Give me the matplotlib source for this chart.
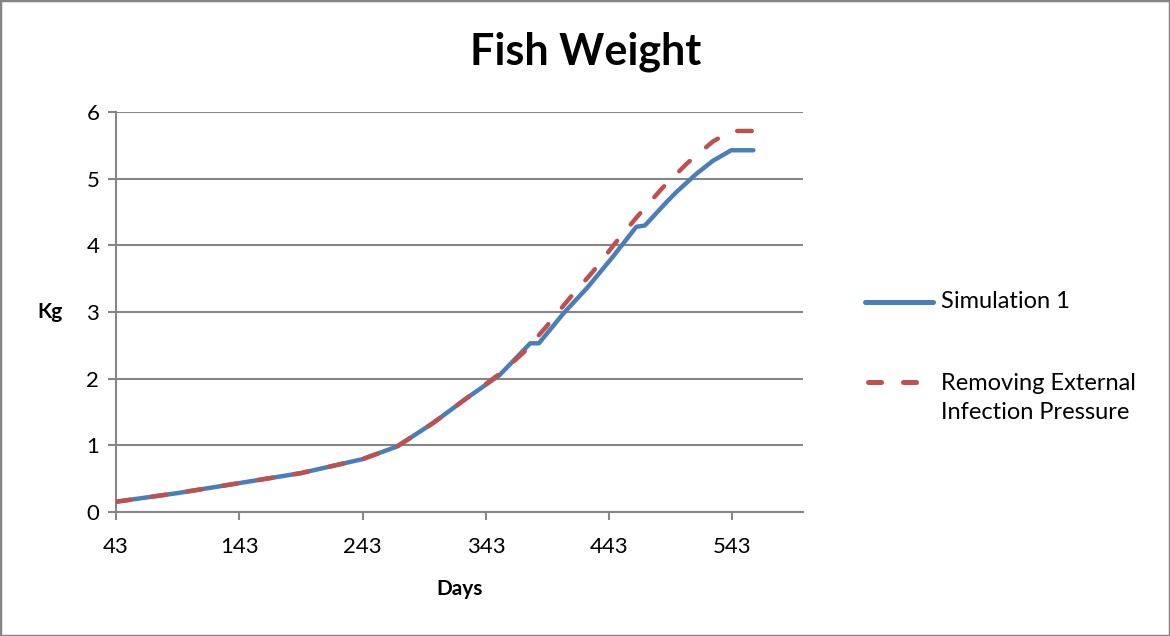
import matplotlib.pyplot as plt
from matplotlib.patches import Rectangle
from matplotlib.lines import Line2D

# values
days_sim = [43, 93, 143, 193, 243, 271, 300, 327, 354, 379, 386, 406, 425,
            446, 465, 472, 490, 498, 514, 527, 542, 560]
weight_sim = [0.15, 0.28, 0.43, 0.58, 0.79, 0.98, 1.33, 1.70, 2.05, 2.53, 2.53,
              2.98, 3.36, 3.83, 4.28, 4.30, 4.66, 4.81, 5.08, 5.27, 5.43, 5.43]

days_rem = [43, 93, 143, 193, 243, 271, 300, 327, 354, 364, 374, 392, 411,
            430, 449, 467, 486, 506, 527, 542, 560]
weight_rem = [0.15, 0.28, 0.43, 0.58, 0.79, 0.98, 1.33, 1.70, 2.07, 2.23, 2.40,
              2.78, 3.21, 3.61, 4.06, 4.46, 4.86, 5.23, 5.56, 5.72, 5.72]

x_ticks = [43, 143, 243, 343, 443, 543]
y_ticks = [0, 1, 2, 3, 4, 5, 6]

plt.rcParams['font.family'] = ['Lato', 'DejaVu Sans']

BLUE = '#4A7EBB'
RED = '#C0504D'
GRID = '#868686'
W, H = 1170, 636

fig = plt.figure(figsize=(11.7, 6.36), dpi=100)
ax = fig.add_axes([0.0991, 0.1954, 0.5870, 0.6280])

ax.plot(days_sim, weight_sim, color=BLUE, lw=3.2, solid_capstyle='round',
        solid_joinstyle='round', zorder=3)
ax.plot(days_rem, weight_rem, color=RED, lw=3.2, dashes=(3.3, 4.8),
        dash_capstyle='round', zorder=4)

ax.set_xlim(43, 600)
ax.set_ylim(0, 6)
ax.set_xticks(x_ticks)
ax.set_yticks(y_ticks)
ax.yaxis.grid(True, color=GRID, lw=1.5)
ax.set_axisbelow(True)

for s in ['top', 'right']:
    ax.spines[s].set_visible(False)
for s in ['left', 'bottom']:
    ax.spines[s].set_color(GRID)
    ax.spines[s].set_linewidth(1.5)
ax.tick_params(axis='both', colors=GRID, length=6, width=1.5, labelsize=16,
               labelcolor='black')
ax.tick_params(axis='x', pad=12)
ax.tick_params(axis='y', pad=6)

fig.text(586 / W, 1 - 52 / H, 'Fish Weight', fontsize=31, fontweight='bold',
         ha='center', va='center')
ax.set_xlabel('Days', fontsize=15, fontweight='bold', labelpad=16)
ax.set_ylabel('Kg', fontsize=15, fontweight='bold', rotation=0, labelpad=26,
              va='center')

# legend drawn by hand so the handle sits on the first text line
fig.add_artist(Line2D([865 / W, 933 / W], [1 - 302 / H, 1 - 302 / H],
                      transform=fig.transFigure, color=BLUE, lw=3.6,
                      solid_capstyle='round'))
fig.text(941 / W, 1 - 302 / H, 'Simulation 1', fontsize=17, va='center')
fig.add_artist(Line2D([867.5 / W, 916.5 / W], [1 - 382 / H, 1 - 382 / H],
                      transform=fig.transFigure, color=RED, lw=3.6,
                      dashes=(2.6, 4.4), dash_capstyle='round'))
fig.text(941 / W, 1 - 398 / H, 'Removing External\nInfection Pressure',
         fontsize=17, va='center', linespacing=1.45)

fig.patches.append(Rectangle((0, 0), 1, 1, transform=fig.transFigure, fill=False,
                             edgecolor=GRID, lw=2.5))

fig.savefig('out.png', dpi=100)
